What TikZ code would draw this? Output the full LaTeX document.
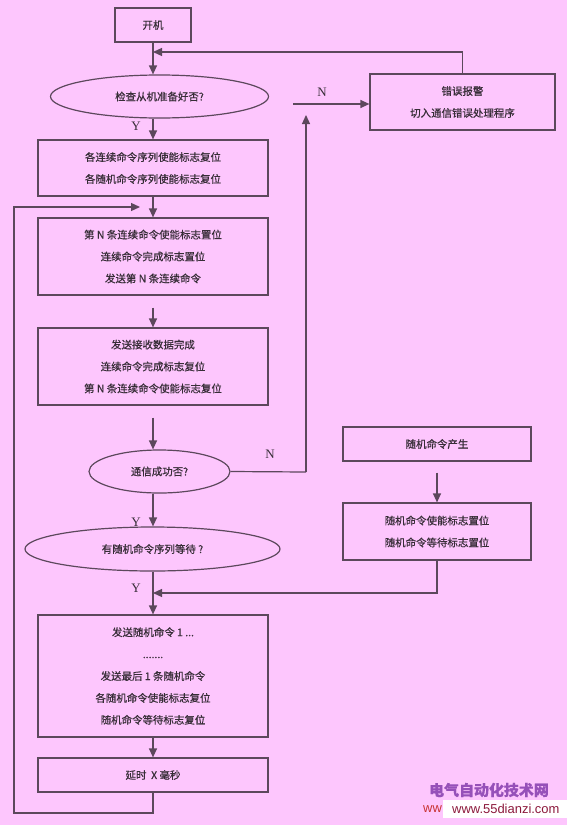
\documentclass[tikz,border=0pt]{standalone}
\usepackage{fontspec}
\setmainfont{Liberation Serif}
\newfontfamily\cjk[FakeBold=0.5]{Noto Sans CJK SC}
\newfontfamily\wsans{Liberation Sans}
\usetikzlibrary{arrows.meta,shapes.geometric}
\definecolor{bgc}{RGB}{253,198,253}
\definecolor{linec}{RGB}{92,72,92}
\definecolor{txtc}{RGB}{55,45,55}
\definecolor{wmp}{RGB}{150,80,185}
\definecolor{wmr}{RGB}{140,25,60}
\definecolor{wmred}{RGB}{200,50,50}
\begin{document}
\begin{tikzpicture}[x=1bp,y=-1bp,
  box/.style={draw=linec, line width=1.2bp, rectangle, inner sep=0pt, align=center, text=txtc, font=\cjk\fontsize{10.5}{22}\selectfont},
  oval/.style={draw=linec, line width=1.2bp, ellipse, inner sep=0pt, text=txtc, font=\cjk\fontsize{10.5}{12}\selectfont},
  arr/.style={draw=linec, line width=1.2bp, -{Triangle[length=9bp,width=8bp]}},
  ln/.style={draw=linec, line width=1.2bp},
  yn/.style={text=txtc, font=\fontsize{13}{13}\selectfont, inner sep=0pt}
]
\fill[bgc] (0,0) rectangle (567,825);
\useasboundingbox (0,0) rectangle (567,825);

\node[box, minimum width=76bp, minimum height=34bp] (start) at (153,25) {开机};
\node[oval, minimum width=218bp, minimum height=43bp] (ell1) at (159.5,96.5) {检查从机准备好否?};
\node[box, minimum width=230bp, minimum height=56bp] (b2) at (153,168) {各连续命令序列使能标志复位\\各随机命令序列使能标志复位};
\node[box, minimum width=230bp, minimum height=77bp] (b3) at (153,256.5) {第 N 条连续命令使能标志置位\\连续命令完成标志置位\\发送第 N 条连续命令};
\node[box, minimum width=230bp, minimum height=77bp] (b4) at (153,366.5) {发送接收数据完成\\连续命令完成标志复位\\第 N 条连续命令使能标志复位};
\node[oval, minimum width=141bp, minimum height=43bp] (ell2) at (159.5,471.5) {通信成功否?};
\node[oval, minimum width=255bp, minimum height=44bp] (ell3) at (152.5,549) {有随机命令序列等待 ?};
\node[box, minimum width=230bp, minimum height=122bp] (b5) at (153,676) {发送随机命令 1 ...\\.......\\发送最后 1 条随机命令\\各随机命令使能标志复位\\随机命令等待标志复位};
\node[box, minimum width=230bp, minimum height=34bp] (b6) at (153,775) {延时\ \ X 毫秒};
\node[box, minimum width=185bp, minimum height=56bp] (err) at (462.5,102) {错误报警\\切入通信错误处理程序};
\node[box, minimum width=188bp, minimum height=34bp] (rgen) at (437,444) {随机命令产生};
\node[box, minimum width=188bp, minimum height=57bp] (rset) at (437,531.5) {随机命令使能标志置位\\随机命令等待标志置位};

\coordinate (fb) at (153,52);
\coordinate (loopend) at (140,207);
\coordinate (loopbot) at (14,813);
\coordinate (nturn) at (306,472);
\coordinate (nup) at (306,115);
\coordinate (nstart) at (293,104);
\coordinate (merge) at (153,593);

\draw[arr] (start.south) -- (start.south |- ell1.north);
\draw[arr] (err.north) |- (fb);
\draw[arr] (start.south |- ell1.south) -- (b2.north);
\draw[arr] (b2.south) -- (b3.north);
\draw[arr] ([yshift=-12bp]b3.south) -- (b4.north);
\draw[arr] ([yshift=-12bp]b4.south) -- (b4.south |- ell2.north);
\draw[arr] (b4.south |- ell2.south) -- (b4.south |- ell3.north);
\draw[arr] (b4.south |- ell3.south) -- (b5.north);
\draw[arr] (b5.south) -- (b6.north);
\draw[arr] (b6.south) |- (loopbot) |- (loopend);
\draw[ln] (ell2.east) -- (nturn);
\draw[arr] (nturn) -- (nup);
\draw[arr] (nstart) -- (nstart -| err.west);
\draw[arr] ([yshift=-11bp]rgen.south) -- (rset.north);
\draw[arr] (rset.south) |- (merge);

\node[yn] (y1) at (136,126) {Y};
\node[yn] (y2) at (136,522) {Y};
\node[yn] (y3) at (136,588) {Y};
\node[yn] (n1) at (270,454) {N};
\node[yn] (n2) at (322,92) {N};

\node[font=\cjk\bfseries\fontsize{15}{15}\selectfont, text=wmp, inner sep=0pt] (wm) at (489,790) {电气自动化技术网};
\node[font=\wsans\fontsize{13}{13}\selectfont, text=wmred, anchor=west, inner sep=0pt] (wmu0) at (423,809) {ww};
\fill[white] (443,800) rectangle (567,818);
\node[font=\wsans\fontsize{13}{13}\selectfont, text=wmr, anchor=west, inner sep=0pt] (wmu) at (452,809) {www.55dianzi.com};
\end{tikzpicture}
\end{document}
